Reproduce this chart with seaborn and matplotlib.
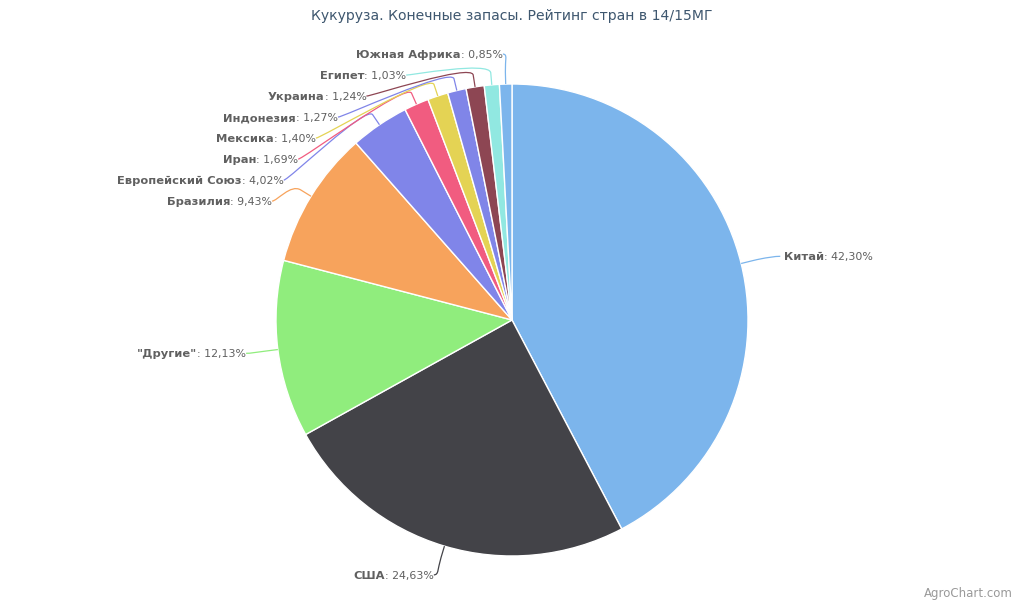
import numpy as np
import matplotlib
matplotlib.use("Agg")
import matplotlib.pyplot as plt
import seaborn as sns
from matplotlib.path import Path
from matplotlib.patches import PathPatch

title = "Кукуруза. Конечные запасы. Рейтинг стран в 14/15МГ"
countries = ["Китай", "США", '"Другие"', "Бразилия", "Европейский Союз", "Иран",
             "Мексика", "Индонезия", "Украина", "Египет", "Южная Африка"]
shares = [42.30, 24.63, 12.13, 9.43, 4.02, 1.69, 1.40, 1.27, 1.24, 1.03, 0.85]
colors = ["#7cb5ec", "#434348", "#90ed7d", "#f7a35c", "#8085e9", "#f15c80",
          "#e4d354", "#8085e8", "#8d4653", "#91e8e1", "#7cb5ec"]

sns.set_theme(style="white")
plt.rcParams["font.family"] = ["DejaVu Sans"]

fig = plt.figure(figsize=(10.24, 6), dpi=100)
ax = fig.add_axes([0, 0, 1, 1])
cx, cy, R = 512, 320, 236
ax.pie(shares, colors=colors, startangle=-90, counterclock=True, center=(cx, cy),
       radius=R, wedgeprops=dict(edgecolor="white", linewidth=1), frame=False)
ax.set_xlim(0, 1024)
ax.set_ylim(600, 0)
ax.axis("off")

renderer = fig.canvas.get_renderer()
tot = sum(shares)
D = R + 30
mids = []
cum = 0
for s in shares:
    mids.append((cum + s / 2) / tot * 2 * np.pi)
    cum += s

def pt(a, r):
    return cx + r * np.sin(a), cy - r * np.cos(a)

# label y layout (Highcharts-like stacking)
left = [i for i, a in enumerate(mids) if np.sin(a) < 0]
right = [i for i, a in enumerate(mids) if np.sin(a) >= 0]
ys = {i: cy - D * np.cos(mids[i]) for i in range(len(mids))}
for side in (left, right):
    order = sorted(side, key=lambda i: ys[i])
    prev = None
    for i in order:
        if prev is not None and ys[i] < prev + 21:
            ys[i] = prev + 21
        prev = ys[i]

fs = 7.9
fsb = 8.25
tc = "#606060"
for i, a in enumerate(mids):
    y = ys[i]
    isleft = np.sin(a) < 0
    dy = min(abs(y - cy), D)
    x = cx + (-1 if isleft else 1) * np.sqrt(D ** 2 - dy ** 2)
    if isleft:
        x += 3
    else:
        x += 5
    ex, ey = pt(a, R)
    bx, by = pt(a, R + 12)
    sx = x - 5 if isleft else x + 5
    verts = [(sx, y), (x, y), (2 * bx - ex, 2 * by - ey), (bx, by), (ex, ey)]
    codes = [Path.MOVETO, Path.CURVE4, Path.CURVE4, Path.CURVE4, Path.LINETO]
    ax.add_patch(PathPatch(Path(verts, codes), fill=False, edgecolor=colors[i], lw=0.9))
    val = ": " + f"{shares[i]:.2f}".replace(".", ",") + "%"
    yb = y + 4
    if isleft:
        tx = x - 5
        t = ax.text(tx, yb, val, ha="right", va="baseline", fontsize=fs, color=tc)
        w = t.get_window_extent(renderer).width
        ax.text(tx - w, yb, countries[i], ha="right", va="baseline", fontsize=fsb,
                color=tc, fontweight="bold")
    else:
        tx = x + 9
        t = ax.text(tx, yb, countries[i], ha="left", va="baseline", fontsize=fsb,
                    color=tc, fontweight="bold")
        w = t.get_window_extent(renderer).width
        ax.text(tx + w, yb, val, ha="left", va="baseline", fontsize=fs, color=tc)

ax.text(512, 16, title, ha="center", va="center", fontsize=10.1, color="#3e576f")
ax.text(1013, 594, "AgroChart.com", ha="right", va="center", fontsize=8.5, color="#999999")

fig.savefig("out.png", dpi=100)
